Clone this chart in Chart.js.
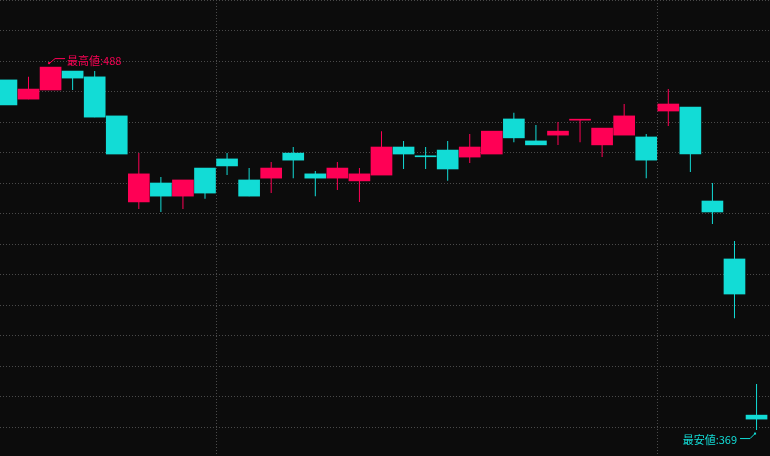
<!DOCTYPE html>
<html>
<head>
<meta charset="utf-8">
<script src="https://cdn.jsdelivr.net/npm/chart.js@4.4.1/dist/chart.umd.min.js"></script>
<style>
  html, body { margin: 0; padding: 0; background: #0c0c0c; overflow: hidden; }
  #candles { display: block; background: #0c0c0c; }
</style>
</head>
<body>
<canvas id="candles" width="770" height="456"></canvas>
<script>
// one entry per trading day (index on the x axis)
const days   = [0,1,2,3,4,5,6,7,8,9,10,11,12,13,14,15,16,17,18,19,20,21,22,23,24,25,26,27,28,29,30,31,32,33,34];
const opens  = [483.8,477.5,480.5,486.7,484.8,472.0,443.8,450.0,445.7,454.9,457.9,451.0,451.6,459.8,453.0,451.6,450.7,452.6,461.8,458.9,460.8,458.5,459.5,471.0,463.8,465.7,470.6,462.5,465.7,465.1,473.6,474.9,444.1,425.1,373.9];
const highs  = [483.8,484.8,488.0,486.7,486.7,472.0,459.8,452.0,451.0,454.9,459.8,454.9,456.9,461.8,453.9,456.9,454.9,467.0,463.8,461.8,463.8,466.1,467.0,473.0,469.0,470.0,470.9,468.0,475.9,466.1,480.8,474.9,450.0,431.0,384.1];
const lows   = [475.6,477.5,480.5,480.5,471.6,459.5,441.5,440.5,441.5,444.8,452.6,445.7,446.7,451.6,445.7,447.7,443.8,452.6,454.6,454.6,450.7,456.6,459.5,463.4,462.5,462.5,463.4,458.5,465.7,451.6,468.7,453.6,436.6,405.7,369.0];
const closes = [475.6,480.8,488.0,484.4,471.6,459.5,453.0,445.7,451.0,446.7,455.6,445.7,454.9,457.5,451.6,454.9,453.0,461.8,459.5,458.6,454.6,461.8,467.0,464.8,462.5,467.0,470.9,468.0,472.0,457.5,475.9,459.5,440.5,413.6,372.6];

// month separators (between days) and price grid
const monthLines = [9.5, 29.5];
const priceTicks = [370,380,390,400,410,420,430,440,450,460,470,480,490,500,510];

const UP = '#ff0055';
const DOWN = '#12dcd6';
const GRID = '#4a4a4a';

const candleColors = days.map(i => closes[i] >= opens[i] ? UP : DOWN);

const bodies = days.map(i => ({ x: i, y: [opens[i], closes[i]] }));
const wicks = days.map(i => ({ x: i, y: [lows[i], highs[i]] }));

// labels for highest / lowest price with a small arrow
const extremesPlugin = {
  id: 'extremes',
  afterDatasetsDraw(chart) {
    const { ctx, scales: { x, y } } = chart;
    const hi = highs.indexOf(Math.max(...highs));
    const lo = lows.indexOf(Math.min(...lows));
    ctx.save();
    ctx.font = '11px "Noto Sans CJK JP", "Noto Sans", sans-serif';
    ctx.textBaseline = 'middle';
    ctx.lineWidth = 1;

    // highest
    let cx = x.getPixelForValue(hi);
    let cy = y.getPixelForValue(highs[hi]);
    ctx.strokeStyle = UP;
    ctx.fillStyle = UP;
    ctx.beginPath();
    ctx.moveTo(cx - 1.5, cy - 3.5);
    ctx.lineTo(cx + 4.5, cy - 8.5);
    ctx.lineTo(cx + 14.5, cy - 8.5);
    ctx.stroke();
    ctx.fillRect(cx - 2.5, cy - 5, 2, 2);
    ctx.textAlign = 'left';
    ctx.fillText('最高値:' + highs[hi], cx + 16.5, cy - 6);

    // lowest
    cx = x.getPixelForValue(lo);
    cy = y.getPixelForValue(lows[lo]);
    ctx.strokeStyle = DOWN;
    ctx.fillStyle = DOWN;
    ctx.beginPath();
    ctx.moveTo(cx - 1.5, cy + 3.5);
    ctx.lineTo(cx - 6.5, cy + 8.5);
    ctx.lineTo(cx - 16.5, cy + 8.5);
    ctx.stroke();
    ctx.fillRect(cx - 2.5, cy + 2.5, 2, 2);
    ctx.textAlign = 'right';
    ctx.fillText('最安値:' + lows[lo], cx - 19.5, cy + 10);
    ctx.restore();
  }
};

new Chart(document.getElementById('candles'), {
  type: 'bar',
  data: {
    datasets: [
      {
        label: 'body',
        data: bodies,
        backgroundColor: candleColors,
        barThickness: 21,
        minBarLength: 1,
        grouped: false,
        borderWidth: 0,
        order: 1
      },
      {
        label: 'wick',
        data: wicks,
        backgroundColor: candleColors,
        barThickness: 1,
        grouped: false,
        borderWidth: 0,
        inflateAmount: 0,
        order: 2
      }
    ]
  },
  options: {
    responsive: false,
    animation: false,
    devicePixelRatio: 1,
    layout: { padding: 0 },
    plugins: {
      legend: { display: false },
      tooltip: { enabled: false }
    },
    scales: {
      x: {
        type: 'linear',
        min: -0.292,
        max: 34.61,
        offset: false,
        afterBuildTicks: scale => { scale.ticks = monthLines.map(v => ({ value: v })); },
        ticks: { display: false },
        // bar charts offset grid lines by default, keep them on the ticks
        grid: { offset: false, color: GRID, lineWidth: 1, drawTicks: false, tickLength: 0 },
        border: { display: false, dash: [1, 2] }
      },
      y: {
        min: 360.5,
        max: 510,
        afterBuildTicks: scale => { scale.ticks = priceTicks.map(v => ({ value: v })); },
        ticks: { display: false },
        grid: { color: GRID, lineWidth: 1, drawTicks: false, tickLength: 0 },
        border: { display: false, dash: [1, 2] }
      }
    }
  },
  plugins: [extremesPlugin]
});
</script>
</body>
</html>
